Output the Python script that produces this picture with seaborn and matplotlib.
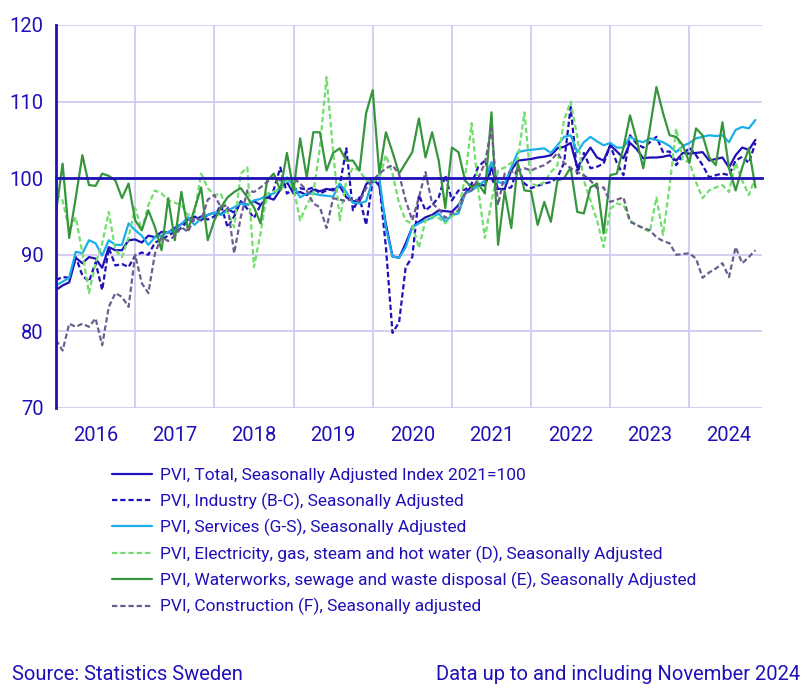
import numpy as np
import pandas as pd
import matplotlib
matplotlib.use("Agg")
import matplotlib.pyplot as plt
import seaborn as sns

sns.set_theme(style="white")
plt.rcParams['font.family'] = ['Roboto', 'DejaVu Sans']

DB = '#1f10b8'
GRID = '#d0ccf0'

years = ['2016', '2017', '2018', '2019', '2020', '2021', '2022', '2023', '2024']

# monthly index values, Jan 2016 - Nov 2024
total = [85.4, 86.0, 86.4, 89.6, 88.9, 89.7, 89.5, 88.3, 91.0, 90.6, 90.6, 91.9,
         92.0, 91.6, 92.5, 92.3, 93.0, 92.9, 93.5, 94.0, 94.6, 95.0, 94.5, 95.2,
         95.5, 95.3, 96.0, 95.5, 96.8, 96.5, 97.0, 96.5, 97.5, 97.2, 98.5, 99.5,
         98.0, 98.2, 97.8, 98.5, 98.3, 98.6, 98.4, 99.0, 97.5, 97.0, 97.0, 99.2,
         100.0, 99.0, 94.0, 89.8, 89.6, 91.5, 93.6, 94.3, 94.9, 95.2, 95.8, 95.7,
         95.6, 96.5, 98.0, 99.0, 99.3, 99.0, 101.4, 98.6, 98.6, 101.0, 102.3, 102.4,
         102.5, 102.7, 102.8, 103.0, 103.9, 104.1, 104.6, 101.4, 102.7, 104.0, 102.7, 102.3,
         104.3, 103.5, 102.6, 104.6, 103.8, 102.6, 102.7, 102.7, 102.8, 103.0, 102.3, 103.3,
         103.2, 103.3, 103.4, 102.3, 102.5, 102.7, 101.4, 103.0, 104.0, 103.7, 105.0]

industry = [86.7, 87.1, 87.0, 89.7, 87.3, 86.5, 89.0, 85.4, 90.9, 88.6, 88.8, 88.4,
            89.9, 90.3, 90.0, 91.6, 92.0, 92.5, 93.0, 93.5, 94.5, 94.5, 95.0, 94.6,
            95.0, 96.5, 93.6, 95.0, 97.0, 96.0, 94.8, 96.5, 97.1, 98.5, 101.4, 98.0,
            98.5, 98.7, 98.5, 98.8, 98.0, 98.4, 98.6, 99.0, 103.9, 95.8, 97.5, 93.9,
            99.7, 99.3, 91.0, 79.8, 81.2, 88.4, 89.7, 97.8, 95.8, 96.5, 97.5, 100.4,
            97.1, 98.4, 98.5, 99.3, 101.5, 102.3, 100.0, 98.4, 98.6, 98.8, 101.5, 99.3,
            98.7, 99.0, 99.3, 99.5, 100.1, 102.0, 109.3, 100.6, 103.3, 101.3, 101.5, 101.9,
            104.3, 102.0, 100.4, 105.6, 104.5, 104.0, 104.7, 105.4, 103.4, 103.5, 101.7, 103.0,
            104.0, 103.0, 101.7, 100.1, 100.4, 100.6, 100.4, 102.3, 102.8, 102.0, 104.6]

services = [86.0, 86.5, 87.0, 90.4, 90.2, 91.9, 91.5, 89.9, 91.9, 91.3, 91.3, 94.1,
            93.2, 92.5, 91.3, 92.3, 92.5, 93.0, 93.2, 94.0, 94.9, 93.9, 94.8, 95.2,
            95.5, 95.2, 95.8, 96.2, 96.7, 96.5, 97.1, 97.3, 97.8, 98.0, 98.8, 100.1,
            99.0, 97.5, 98.0, 98.0, 97.8, 97.7, 97.6, 99.3, 98.2, 96.8, 96.7, 97.0,
            99.8, 100.1, 93.5, 89.8, 89.6, 91.0, 93.6, 94.1, 94.5, 94.8, 95.4, 94.3,
            95.2, 95.4, 98.0, 98.4, 99.0, 99.7, 102.1, 99.5, 99.3, 101.4, 103.4, 103.6,
            103.7, 103.8, 103.9, 103.3, 104.3, 105.4, 105.6, 103.4, 104.7, 105.4, 104.8, 104.3,
            104.6, 104.0, 104.0, 105.4, 104.9, 104.7, 105.2, 105.0, 104.7, 104.2, 103.4, 104.2,
            104.6, 105.2, 105.4, 105.6, 105.5, 105.6, 104.7, 106.3, 106.7, 106.5, 107.6]

electricity = [98.0, 97.1, 93.2, 94.9, 90.2, 85.0, 88.9, 91.5, 95.6, 90.6, 89.7, 92.3,
               96.1, 93.2, 96.5, 98.4, 98.0, 97.1, 96.8, 96.5, 95.2, 95.5, 100.6, 98.7,
               97.8, 98.0, 95.5, 93.6, 100.6, 101.4, 88.4, 92.8, 98.0, 98.3, 98.4, 99.7,
               98.7, 94.5, 96.5, 98.0, 104.0, 113.2, 103.5, 94.5, 99.7, 101.4, 101.0, 99.7,
               99.5, 100.0, 103.0, 100.6, 96.7, 94.5, 94.0, 90.9, 94.5, 95.0, 94.8, 94.1,
               95.0, 95.8, 100.1, 107.2, 98.5, 92.2, 97.0, 101.0, 101.4, 102.0, 102.5, 108.6,
               99.3, 99.0, 99.5, 100.8, 101.7, 107.6, 110.0, 105.4, 99.7, 97.1, 94.5, 91.0,
               96.0, 96.7, 96.5, 94.5, 93.9, 93.4, 93.0, 97.5, 92.6, 99.0, 106.5, 102.3,
               102.1, 99.5, 97.4, 98.4, 98.8, 99.1, 98.2, 102.0, 99.7, 97.8, 100.1]

waterworks = [95.5, 101.9, 92.2, 97.5, 103.0, 99.1, 99.0, 100.6, 100.3, 99.7, 97.4, 99.3,
              94.5, 93.2, 95.8, 93.6, 90.6, 97.4, 91.9, 98.2, 93.2, 96.0, 98.8, 91.9,
              94.5, 96.2, 97.5, 98.2, 98.7, 97.5, 96.2, 94.1, 99.7, 100.6, 98.4, 103.3,
              98.4, 105.2, 100.1, 106.0, 106.0, 101.0, 103.3, 103.9, 102.3, 102.3, 101.0, 108.5,
              111.5, 100.6, 106.0, 103.4, 100.6, 102.0, 103.4, 107.8, 102.7, 106.0, 102.3, 96.1,
              104.0, 103.4, 99.7, 98.8, 99.3, 98.0, 108.6, 91.3, 98.3, 93.5, 102.0, 98.4,
              98.3, 93.9, 96.9, 94.3, 99.7, 100.0, 101.4, 95.6, 95.4, 98.8, 99.3, 92.8,
              100.4, 100.6, 104.0, 108.2, 105.0, 101.3, 106.5, 111.9, 108.5, 105.6, 105.4, 104.3,
              102.0, 106.5, 105.6, 102.7, 101.7, 107.3, 101.3, 98.4, 101.4, 103.9, 98.8]

construction = [78.9, 77.5, 81.0, 80.6, 81.0, 80.6, 81.7, 78.2, 83.2, 85.0, 84.5, 83.2,
                90.0, 86.3, 85.0, 90.2, 92.3, 91.8, 92.5, 93.6, 93.0, 94.9, 94.5, 97.2,
                97.8, 96.2, 96.5, 90.2, 94.9, 98.4, 98.2, 98.8, 99.5, 100.1, 99.7, 100.0,
                100.0, 99.3, 98.4, 96.7, 96.2, 93.5, 97.4, 97.2, 97.0, 97.4, 96.9, 98.7,
                99.7, 100.6, 101.3, 101.7, 100.5, 97.1, 94.5, 97.5, 100.8, 96.7, 96.0, 94.8,
                95.4, 95.8, 98.0, 98.4, 100.0, 102.0, 106.5, 96.5, 100.6, 100.8, 101.0, 101.3,
                101.0, 101.4, 101.7, 102.3, 103.3, 102.0, 101.3, 100.8, 100.4, 99.7, 98.7, 98.8,
                96.9, 97.2, 97.5, 94.3, 93.9, 93.5, 93.2, 92.3, 91.8, 91.5, 90.0, 90.1,
                90.2, 89.5, 87.0, 87.7, 88.2, 88.9, 87.1, 91.0, 88.9, 89.7, 90.6]

labels = ['PVI, Total, Seasonally Adjusted Index 2021=100',
          'PVI, Industry (B-C), Seasonally Adjusted',
          'PVI, Services (G-S), Seasonally Adjusted',
          'PVI, Electricity, gas, steam and hot water (D), Seasonally Adjusted',
          'PVI, Waterworks, sewage and waste disposal (E), Seasonally Adjusted',
          'PVI, Construction (F), Seasonally adjusted']

df = pd.DataFrame({'month': np.arange(len(total)),
                   'total': total, 'industry': industry, 'services': services,
                   'electricity': electricity, 'waterworks': waterworks,
                   'construction': construction})

styles = [('total', DB, False), ('industry', DB, True), ('services', '#1aaeea', False),
          ('electricity', '#72de6c', True), ('waterworks', '#36963c', False),
          ('construction', '#6d5c8e', True)]

fig, ax = plt.subplots(figsize=(8.09, 6.96), dpi=100)
fig.subplots_adjust(left=56/809, right=762/809, top=1-25/696, bottom=1-408/696)

handles = []
for (col, c, dashed), lab in zip(styles, labels):
    sns.lineplot(data=df, x='month', y=col, ax=ax, color=c, linewidth=1.6, label=lab)
    ln = ax.lines[-1]
    if dashed:
        ln.set_dashes([2.4, 1.3])
    handles.append(ln)

ax.set_xlim(0, 107)
ax.set_ylim(70, 120)
ax.set_yticks(range(70, 121, 10))
ax.set_xticks(range(12, 97, 12))
ax.set_xlabel('')
ax.set_ylabel('')

ax.grid(True, color=GRID, linewidth=1.3)
ax.set_axisbelow(True)
for s in ['top', 'right']:
    ax.spines[s].set_visible(False)
ax.spines['left'].set_color(DB)
ax.spines['left'].set_linewidth(2)
ax.spines['bottom'].set_position(('data', 100))
ax.spines['bottom'].set_color(DB)
ax.spines['bottom'].set_linewidth(2)
ax.tick_params(axis='x', length=4, width=1.5, color=DB, direction='out', labelbottom=False)
ax.tick_params(axis='y', length=5, width=1.5, color=DB, direction='out', pad=4,
               labelsize=14.5, labelcolor=DB)

sec = ax.secondary_xaxis('bottom')
sec.set_xticks([6 + 12*k for k in range(len(years))], labels=years)
sec.tick_params(length=0, pad=13, labelsize=14.5, labelcolor=DB)
sec.spines['bottom'].set_visible(False)

ax.legend(handles, labels, loc='upper left', bbox_to_anchor=(112/809, 1-468/696),
          bbox_transform=fig.transFigure, frameon=False, fontsize=12.5,
          handlelength=2.3, handletextpad=0.45, labelspacing=0.53,
          borderpad=0, borderaxespad=0, labelcolor=DB)

fig.text(12/809, 1-674/696, 'Source: Statistics Sweden', color=DB, fontsize=14.5,
         ha='left', va='center')
fig.text(800/809, 1-674/696, 'Data up to and including November 2024', color=DB,
         fontsize=14.5, ha='right', va='center')

plt.savefig('out.png', dpi=100)
